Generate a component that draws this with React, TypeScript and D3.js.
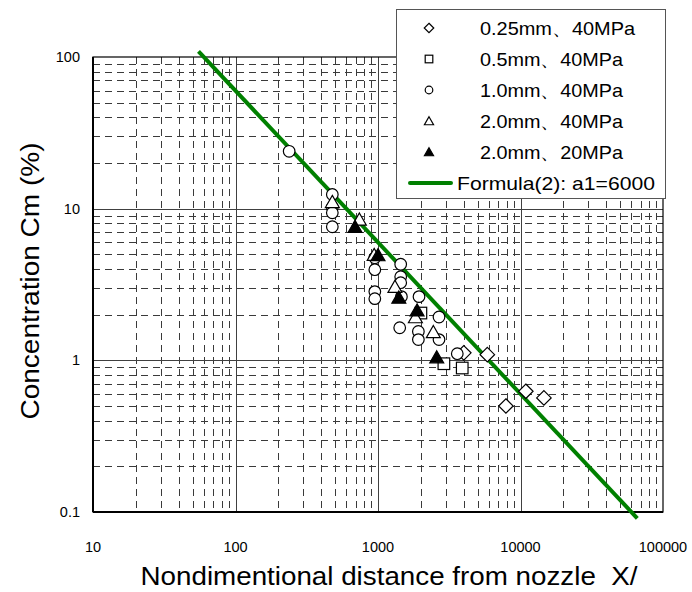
import React from "react";
import * as d3 from "d3";

const W = 692;
const H = 592;

// Data [X, Cm%]
const d025: [number, number][] = [
  [4000, 1.12], [5850, 1.09], [7900, 0.5], [10900, 0.625], [14600, 0.565],
];
const d05: [number, number][] = [
  [2000, 2.05], [2900, 0.95], [3900, 0.89],
];
const d10: [number, number][] = [
  [238, 23.9], [478, 12.4], [478, 10.2], [478, 9.4], [478, 7.6],
  [950, 4.75], [950, 3.96], [950, 2.84], [950, 2.55],
  [1443, 4.3], [1443, 3.56], [1443, 3.25], [1460, 2.63], [1420, 1.64],
  [1940, 2.63], [1920, 1.55], [1920, 1.37],
  [2680, 1.93], [2680, 1.37], [3600, 1.106],
];
const d20_40: [number, number][] = [
  [478, 11.1], [740, 8.5], [940, 4.97], [1315, 3.06], [1830, 1.93], [2445, 1.54],
];
const d20_20: [number, number][] = [
  [690, 7.6], [1000, 4.95], [1400, 2.6], [1880, 2.14], [2583, 1.05],
];
const formulaA1 = 6000;
const formulaRange: [number, number] = [55, 66000];

const xTicks = [10, 100, 1000, 10000, 100000];
const yTicks = [0.1, 1, 10, 100];
const xTickLabels = ["10", "100", "1000", "10000", "100000"];
const yTickLabels = ["0.1", "1", "10", "100"];

const legendLabels = [
  "0.25mm、40MPa",
  "0.5mm、40MPa",
  "1.0mm、40MPa",
  "2.0mm、40MPa",
  "2.0mm、20MPa",
  "Formula(2): a1=6000",
];
const legendTextLengths = [155, 143, 143, 143, 143, 198];

const FONT = "'Liberation Sans', Arial, sans-serif";

type Shape = "diamond" | "square" | "circle" | "triangle" | "triangleFill";

function Marker({ shape, x, y, s }: { shape: Shape; x: number; y: number; s: number }) {
  const st = { stroke: "#000", strokeWidth: 1.2 };
  if (shape === "circle") return <circle cx={x} cy={y} r={s} fill="#fff" {...st} />;
  if (shape === "square")
    return <rect x={x - s} y={y - s} width={2 * s} height={2 * s} fill="#fff" {...st} />;
  if (shape === "diamond") {
    const d = s * 1.25;
    return <path d={`M${x},${y - d}L${x + d},${y}L${x},${y + d}L${x - d},${y}Z`} fill="#fff" {...st} />;
  }
  const h = s * 1.1;
  const w = s * 1.2;
  return (
    <path
      d={`M${x},${y - h}L${x + w},${y + h * 0.9}L${x - w},${y + h * 0.9}Z`}
      fill={shape === "triangleFill" ? "#000" : "#fff"}
      {...st}
    />
  );
}

export default function App() {
  const L = 93, R = 663, T = 57, B = 512;
  const x = d3.scaleLog().domain([10, 100000]).range([L, R]);
  const y = d3.scaleLog().domain([0.1, 100]).range([B, T]);

  const minorX: number[] = [];
  for (let dec = 10; dec < 100000; dec *= 10) for (let k = 2; k <= 9; k++) minorX.push(dec * k);
  const minorY: number[] = [];
  for (let dec = 0.1; dec < 99; dec *= 10) for (let k = 2; k <= 9; k++) minorY.push(+(dec * k).toPrecision(3));
  const majorX = [100, 1000, 10000];
  const majorY = [1, 10];

  const linePts: [number, number][] = [formulaRange[0], formulaRange[1]].map((v) => [v, formulaA1 / v]);
  const line = d3.line<[number, number]>().x((d) => x(d[0])).y((d) => y(d[1]));

  const series: { data: [number, number][]; shape: Shape }[] = [
    { data: d025, shape: "diamond" },
    { data: d05, shape: "square" },
    { data: d10, shape: "circle" },
    { data: d20_40, shape: "triangle" },
    { data: d20_20, shape: "triangleFill" },
  ];

  const legX = 396, legY = 9, legW = 269, legH = 189;
  const rowY = (i: number) => 28 + i * 31;

  return (
    <svg width={W} height={H} style={{ display: "block", position: "absolute", left: 0, top: 0 }} fontFamily={FONT}>
      <rect width={W} height={H} fill="#fff" />
      {/* minor grid */}
      <g stroke="#3a3a3a" strokeWidth={1} strokeDasharray="7,5">
        {minorX.map((v) => (
          <line key={"mx" + v} x1={Math.round(x(v)) + 0.5} x2={Math.round(x(v)) + 0.5} y1={T} y2={B} />
        ))}
        {minorY.map((v) => (
          <line key={"my" + v} x1={L} x2={R} y1={Math.round(y(v)) + 0.5} y2={Math.round(y(v)) + 0.5} />
        ))}
      </g>
      {/* major grid */}
      <g stroke="#404040" strokeWidth={1}>
        {majorX.map((v) => (
          <line key={"Mx" + v} x1={Math.round(x(v)) + 0.5} x2={Math.round(x(v)) + 0.5} y1={T} y2={B} />
        ))}
        {majorY.map((v) => (
          <line key={"My" + v} x1={L} x2={R} y1={Math.round(y(v)) + 0.5} y2={Math.round(y(v)) + 0.5} />
        ))}
      </g>
      {/* frame */}
      <rect x={L} y={T} width={R - L} height={B - T} fill="none" stroke="#000" strokeWidth={1.2} />
      <line x1={L} x2={L} y1={T} y2={B} stroke="#000" strokeWidth={2} />
      <line x1={L} x2={R} y1={B} y2={B} stroke="#000" strokeWidth={2} />

      {/* formula line */}
      <path d={line(linePts) || ""} stroke="#008000" strokeWidth={4} fill="none" />

      {/* markers */}
      {series.map((s, i) => (
        <g key={i}>
          {s.data.map((d, j) => (
            <Marker key={j} shape={s.shape} x={x(d[0])} y={y(d[1])} s={5.8} />
          ))}
        </g>
      ))}

      {/* tick labels */}
      <g fontSize={14.5} fill="#000">
        {yTicks.map((v, i) => (
          <text key={"yt" + v} x={80} y={y(v)} textAnchor="end" dominantBaseline="central">
            {yTickLabels[i]}
          </text>
        ))}
        {xTicks.map((v, i) => (
          <text key={"xt" + v} x={x(v)} y={547} textAnchor="middle" dominantBaseline="central">
            {xTickLabels[i]}
          </text>
        ))}
      </g>

      {/* axis titles */}
      <text x={389} y={585} fontSize={26} textAnchor="middle" textLength={497} lengthAdjust="spacingAndGlyphs">
        {"Nondimentional distance from nozzle\u00a0\u00a0X/"}
      </text>
      <text
        transform="translate(39,281) rotate(-90)"
        fontSize={26}
        textAnchor="middle"
        textLength={277}
        lengthAdjust="spacingAndGlyphs"
      >
        Concentration Cm (%)
      </text>

      {/* legend */}
      <rect x={legX + 0.5} y={legY + 0.5} width={legW} height={legH} fill="#fff" stroke="#555" strokeWidth={1} />
      {series.map((s, i) => (
        <g key={"lg" + i}>
          <Marker shape={s.shape} x={429} y={rowY(i)} s={3.8} />
          <text
            x={480}
            y={rowY(i)}
            fontSize={19}
            dominantBaseline="central"
            textLength={legendTextLengths[i]}
            lengthAdjust="spacingAndGlyphs"
          >
            {legendLabels[i]}
          </text>
        </g>
      ))}
      <line x1={410} x2={451} y1={rowY(5)} y2={rowY(5)} stroke="#008000" strokeWidth={4} strokeLinecap="round" />
      <text
        x={457}
        y={rowY(5)}
        fontSize={19}
        dominantBaseline="central"
        textLength={legendTextLengths[5]}
        lengthAdjust="spacingAndGlyphs"
      >
        {legendLabels[5]}
      </text>
    </svg>
  );
}
